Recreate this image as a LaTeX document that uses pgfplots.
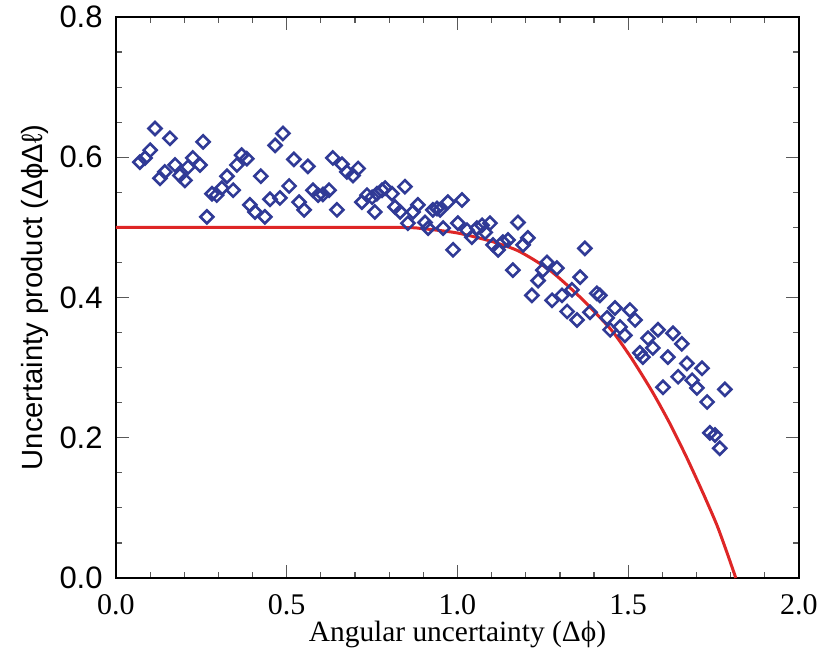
\documentclass[border=0pt]{standalone}
\usepackage{fontspec}
\setmainfont{Liberation Serif}
\newfontfamily\sansf{Liberation Sans}
\usepackage{pgfplots}
\usepackage{pgfplotstable}
\pgfplotsset{compat=1.18}
\definecolor{markblue}{RGB}{48,58,150}
\definecolor{curvered}{RGB}{222,38,38}

\pgfplotstableread{
x y
0.070 0.593
0.085 0.599
0.100 0.610
0.114 0.641
0.129 0.570
0.143 0.579
0.158 0.627
0.173 0.589
0.187 0.574
0.202 0.567
0.211 0.586
0.225 0.599
0.246 0.589
0.255 0.622
0.266 0.515
0.281 0.548
0.295 0.546
0.310 0.556
0.325 0.573
0.343 0.553
0.354 0.589
0.368 0.603
0.383 0.598
0.392 0.532
0.407 0.522
0.424 0.573
0.436 0.515
0.451 0.540
0.466 0.617
0.480 0.542
0.489 0.634
0.507 0.559
0.521 0.597
0.536 0.536
0.551 0.525
0.562 0.587
0.577 0.553
0.592 0.546
0.606 0.547
0.624 0.553
0.635 0.599
0.647 0.525
0.662 0.590
0.676 0.579
0.694 0.574
0.709 0.584
0.720 0.536
0.735 0.546
0.750 0.543
0.764 0.548
0.779 0.553
0.788 0.556
0.808 0.548
0.758 0.522
0.846 0.558
0.817 0.529
0.832 0.522
0.855 0.506
0.870 0.522
0.884 0.532
0.905 0.507
0.914 0.499
0.928 0.525
0.940 0.527
0.949 0.525
0.958 0.499
0.972 0.536
0.987 0.468
1.001 0.506
1.013 0.539
1.028 0.496
1.042 0.486
1.057 0.499
1.072 0.503
1.081 0.493
1.095 0.506
1.104 0.475
1.119 0.468
1.133 0.479
1.148 0.482
1.162 0.439
1.177 0.507
1.192 0.475
1.206 0.485
1.218 0.403
1.236 0.424
1.250 0.439
1.262 0.450
1.277 0.396
1.291 0.442
1.306 0.403
1.321 0.380
1.335 0.411
1.350 0.368
1.359 0.429
1.373 0.470
1.388 0.379
1.408 0.406
1.417 0.403
1.438 0.371
1.447 0.354
1.461 0.385
1.476 0.358
1.490 0.346
1.505 0.382
1.520 0.368
1.534 0.321
1.543 0.315
1.558 0.342
1.572 0.328
1.587 0.354
1.602 0.272
1.616 0.315
1.631 0.349
1.646 0.287
1.657 0.334
1.672 0.306
1.687 0.282
1.701 0.271
1.716 0.299
1.731 0.251
1.739 0.207
1.754 0.204
1.768 0.185
1.783 0.269
}\scatterdata

\pgfplotstableread{
x y
0.000 0.500
0.800 0.500
0.900 0.498
1.000 0.492
1.100 0.480
1.180 0.466
1.270 0.439
1.360 0.400
1.450 0.354
1.510 0.313
1.570 0.266
1.620 0.222
1.670 0.173
1.720 0.120
1.760 0.075
1.790 0.035
1.815 0.000
}\curvedata

\begin{document}
\begin{tikzpicture}
\path[use as bounding box] (-58pt,-37.5pt) rectangle (357.5pt,289pt);
\begin{axis}[
  at={(0,0)}, anchor=south west,
  scale only axis=true,
  width=341.5pt, height=280.5pt,
  xmin=0, xmax=2, ymin=0, ymax=0.8,
  xtick={0,0.5,1,1.5,2},
  xticklabels={0.0,0.5,1.0,1.5,2.0},
  ytick={0,0.2,0.4,0.6,0.8},
  yticklabels={0.0,0.2,0.4,0.6,0.8},
  minor x tick num=4,
  minor y tick num=3,
  tick align=inside,
  major tick length=6.5pt,
  minor tick length=3pt,
  every tick/.style={black!65, line width=0.6pt},
  axis line style={line width=1.3pt, black},
  /pgf/number format/assume math mode=true,
  xticklabel style={font=\fontsize{15}{17}\selectfont, inner sep=0pt, yshift=-8pt},
  yticklabel style={font=\sansf\fontsize{15.5}{18}\selectfont, inner sep=0pt, xshift=-6.5pt},
  xlabel={Angular uncertainty (Δϕ)},
  xlabel style={font=\fontsize{14.7}{17}\selectfont, at={(axis description cs:0.5,-0.1)}, anchor=center},
  ylabel={Uncertainty product (ΔϕΔℓ)},
  ylabel style={font=\sansf\fontsize{14.6}{17}\selectfont, at={(axis description cs:-0.1186,0.5)}, anchor=center},
  clip=false,
]
\addplot[only marks, mark=square, mark size=2.3pt, mark options={markblue, line width=1.3pt, fill=none, rotate=45}] table[x=x,y=y] {\scatterdata};
\addplot[curvered, line width=1.5pt, smooth, tension=0.4] table[x=x,y=y] {\curvedata};
\end{axis}
\end{tikzpicture}
\end{document}
